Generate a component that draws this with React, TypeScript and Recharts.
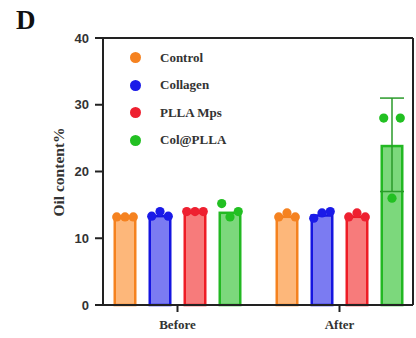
import React from "react";
import { ComposedChart, Bar, XAxis, YAxis, ErrorBar, Label } from "recharts";

const categories = ["Before", "After"];
const control = [13.2, 13.4];
const collagen = [13.5, 13.6];
const pllaMps = [14.0, 13.4];
const colPlla = [14.0, 24.0];
const colPllaErr = [0, 7.0];

const controlPts = [[13.2, 13.2, 13.2], [13.2, 13.8, 13.2]];
const collagenPts = [[13.3, 14.0, 13.3], [13.0, 13.8, 14.0]];
const pllaPts = [[14.0, 14.0, 14.0], [13.2, 13.8, 13.2]];
const colPllaPts = [[15.2, 13.2, 14.0], [28.0, 16.0, 28.0]];

const yTicks = [0, 10, 20, 30, 40];

const series = [
  { key: "control", pts: "controlPts", name: "Control", fill: "#fdb77a", stroke: "#f5821f", dot: "#f58220" },
  { key: "collagen", pts: "collagenPts", name: "Collagen", fill: "#7b7bf2", stroke: "#1515e0", dot: "#1a1ae8" },
  { key: "plla", pts: "pllaPts", name: "PLLA Mps", fill: "#f77b7b", stroke: "#ee1c25", dot: "#ee2030" },
  { key: "col", pts: "colPllaPts", name: "Col@PLLA", fill: "#7cd87c", stroke: "#22b822", dot: "#22c022" },
];

const data = categories.map((c, i) => ({
  category: c,
  control: control[i],
  collagen: collagen[i],
  plla: pllaMps[i],
  col: colPlla[i],
  colErr: colPllaErr[i],
  controlPts: controlPts[i],
  collagenPts: collagenPts[i],
  pllaPts: pllaPts[i],
  colPllaPts: colPllaPts[i],
}));

const makeShape = (s: any) => (props: any) => {
  const { x, y, width, height, payload } = props;
  const value = payload[s.key];
  const sw = 2.5;
  const ppu = height / value;
  const base = y + height;
  const pts: number[] = payload[s.pts] || [];
  return (
    <g>
      <rect x={x + sw / 2} y={y + sw / 2} width={width - sw} height={height - sw / 2} fill={s.fill} stroke={s.stroke} strokeWidth={sw} />
      {pts.map((v, i) => (
        <circle key={i} cx={x + width / 2 + (i - 1) * width * 0.36} cy={base - v * ppu} r={4.6} fill={s.dot} />
      ))}
    </g>
  );
};

export default function App() {
  return (
    <div style={{ position: "absolute", left: 0, top: 0, width: 416, height: 338, background: "#fff" }}>
      <div style={{ position: "absolute", left: 16, top: 5, fontFamily: "'Liberation Serif', serif", fontWeight: 700, fontSize: 27, color: "#111", lineHeight: "normal" }}>D</div>
      <ComposedChart width={416} height={338} data={data} margin={{ top: 37, right: 2, bottom: 0, left: 0 }} barSize={23} barGap={12}>
        <XAxis
          dataKey="category"
          height={33}
          padding={{ left: -6.5, right: -7.5 }}
          axisLine={{ stroke: "#222", strokeWidth: 2 }}
          tickLine={{ stroke: "#222", strokeWidth: 2 }}
          tickSize={7}
          tickMargin={8}
          tick={{ fontFamily: "'Liberation Serif', serif", fontWeight: 700, fontSize: 13, fill: "#333" }}
        />
        <XAxis xAxisId="top" dataKey="category" orientation="top" height={1} tick={false} tickLine={false} axisLine={{ stroke: "#222", strokeWidth: 2 }} />
        <YAxis
          width={103}
          domain={[0, 40]}
          ticks={yTicks}
          interval={0}
          axisLine={{ stroke: "#222", strokeWidth: 2 }}
          tickLine={{ stroke: "#222", strokeWidth: 2 }}
          tickSize={8}
          tickMargin={6}
          tick={{ fontFamily: "'Liberation Sans', Arial, sans-serif", fontWeight: 700, fontSize: 13, fill: "#333" }}
        >
          <Label
            content={() => {
              const cy = 172;
              return (
                <text x={58} y={cy} transform={`rotate(-90, 58, ${cy})`} textAnchor="middle" dominantBaseline="central" fontFamily="'Liberation Serif', serif" fontWeight={700} fontSize={15.5} fill="#333">
                  Oil content%
                </text>
              );
            }}
          />
        </YAxis>
        <YAxis yAxisId="right" orientation="right" width={1} tick={false} tickLine={false} axisLine={{ stroke: "#222", strokeWidth: 2 }} />
        {series.map((s) => (
          <Bar key={s.key} dataKey={s.key} name={s.name} fill={s.fill} stroke={s.stroke} isAnimationActive={false} shape={makeShape(s)}>
            {s.key === "col" ? <ErrorBar dataKey="colErr" width={12} stroke="#2a9a2a" strokeWidth={1.5} direction="y" /> : null}
          </Bar>
        ))}
      </ComposedChart>
      <div style={{ position: "absolute", left: 130, top: 44, fontFamily: "'Liberation Serif', serif", fontWeight: 700, fontSize: 13, color: "#333" }}>
        {series.map((s) => (
          <div key={s.key} style={{ display: "flex", alignItems: "center", height: 27.5 }}>
            <span style={{ width: 11, height: 11, borderRadius: "50%", background: s.dot, display: "inline-block", marginRight: 19 }} />
            <span>{s.name}</span>
          </div>
        ))}
      </div>
    </div>
  );
}
